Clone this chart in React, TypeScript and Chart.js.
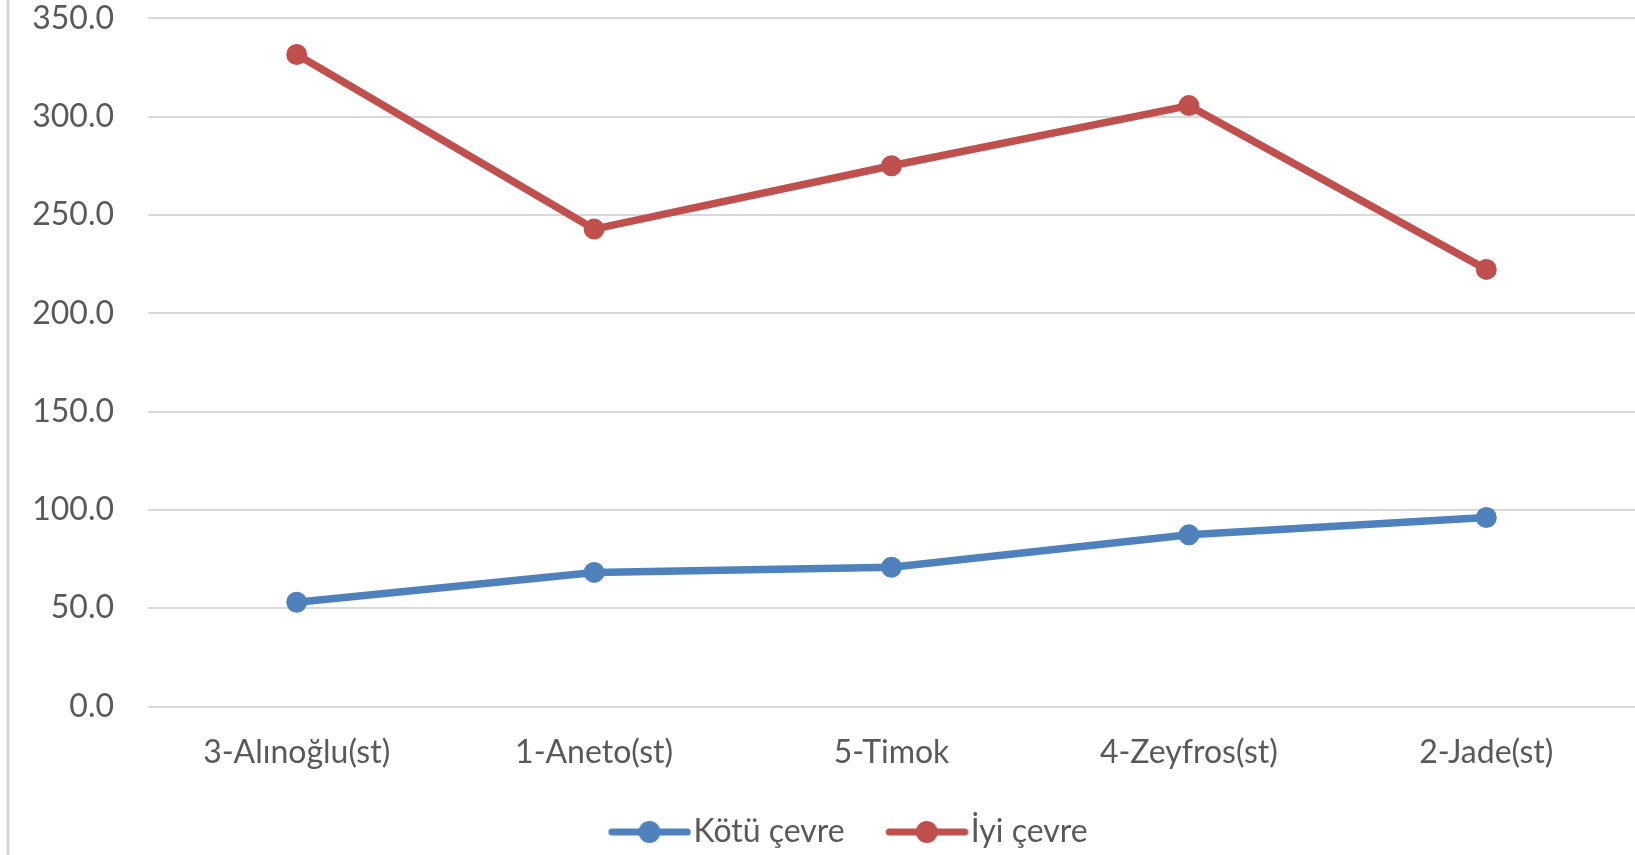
import React, { useEffect, useRef } from 'react';
import { Chart, registerables } from 'chart.js';

Chart.register(...registerables);

const categories = ['3-Alınoğlu(st)', '1-Aneto(st)', '5-Timok', '4-Zeyfros(st)', '2-Jade(st)'];
const kotuCevre = [53.0, 68.2, 70.8, 87.3, 96.1];
const iyiCevre = [331.6, 242.8, 275.0, 305.6, 222.3];
const seriesNames = ['Kötü çevre', 'İyi çevre'];
const seriesColors = ['#4F81BD', '#C0504D'];
const yMin = 0;
const yMax = 350;
const yStep = 50;

const W = 1635;
const H = 855;
const TEXT = '#595959';
const GRID = '#D9D9D9';
const CLEAR = 'rgba(0,0,0,0)';

function makeLegendIcon(color: string): HTMLCanvasElement {
  const c = document.createElement('canvas');
  c.width = 130;
  c.height = 26;
  const ctx = c.getContext('2d')!;
  ctx.strokeStyle = color;
  ctx.lineWidth = 7;
  ctx.lineCap = 'round';
  ctx.beginPath();
  ctx.moveTo(50.5, 13);
  ctx.lineTo(126, 13);
  ctx.stroke();
  ctx.fillStyle = color;
  ctx.beginPath();
  ctx.arc(88, 13, 11, 0, Math.PI * 2);
  ctx.fill();
  return c;
}

const borderPlugin = {
  id: 'leftBorder',
  beforeDraw(chart: any) {
    const ctx = chart.ctx;
    ctx.save();
    ctx.fillStyle = GRID;
    ctx.fillRect(6.5, 0, 3, chart.height);
    ctx.restore();
  },
};

export default function App() {
  const ref = useRef<HTMLCanvasElement | null>(null);

  useEffect(() => {
    if (!ref.current) return;
    Chart.defaults.font.family = 'Lato, "Noto Sans", sans-serif';
    const icons = seriesColors.map((c) => makeLegendIcon(c));
    const values = [kotuCevre, iyiCevre];
    const chart = new Chart(ref.current, {
      type: 'line',
      data: {
        labels: categories,
        datasets: seriesNames.map((name, i) => ({
          label: name,
          data: values[i],
          borderColor: seriesColors[i],
          backgroundColor: seriesColors[i],
          borderWidth: 7.5,
          pointRadius: 9.5,
          pointBorderWidth: 2,
          pointBackgroundColor: seriesColors[i],
          pointBorderColor: seriesColors[i],
          tension: 0,
          fill: false,
        })),
      },
      options: {
        animation: false,
        responsive: false,
        maintainAspectRatio: false,
        layout: { autoPadding: false, padding: { left: 28, right: 0, top: 18.3, bottom: -3 } },
        plugins: {
          tooltip: { enabled: false },
          legend: {
            position: 'bottom',
            labels: {
              usePointStyle: true,
              pointStyleWidth: 102,
              padding: 8,
              color: TEXT,
              font: { size: 32 },
              generateLabels: (ch: any) => {
                const items = (Chart.defaults.plugins.legend.labels as any).generateLabels(ch);
                return items.map((it: any, i: number) => ({ ...it, pointStyle: icons[i], fontColor: TEXT }));
              },
            },
          },
        },
        scales: {
          x: {
            offset: true,
            grid: { display: true, drawOnChartArea: false, drawTicks: true, tickLength: 27, color: CLEAR, tickColor: CLEAR },
            border: { display: false },
            ticks: { color: TEXT, font: { size: 32 }, padding: 0, maxRotation: 0, autoSkip: false },
            afterFit: (s: any) => { s.height = 101.5; },
          },
          y: {
            min: yMin,
            max: yMax,
            grid: { color: GRID, lineWidth: 2, drawTicks: true, tickLength: 34, tickColor: CLEAR },
            border: { display: false },
            ticks: {
              stepSize: yStep,
              color: TEXT,
              font: { size: 32, lineHeight: 1 },
              padding: 0,
              callback: (v: any) => Number(v).toFixed(1),
            },
            afterFit: (s: any) => { s.width = 120; },
          },
        },
      },
      plugins: [borderPlugin],
    } as any);
    return () => chart.destroy();
  }, []);

  return (
    <div style={{ position: 'fixed', left: 0, top: 0, width: W, height: H, background: '#fff' }}>
      <canvas ref={ref} width={W} height={H} style={{ display: 'block', width: W, height: H }} />
    </div>
  );
}
